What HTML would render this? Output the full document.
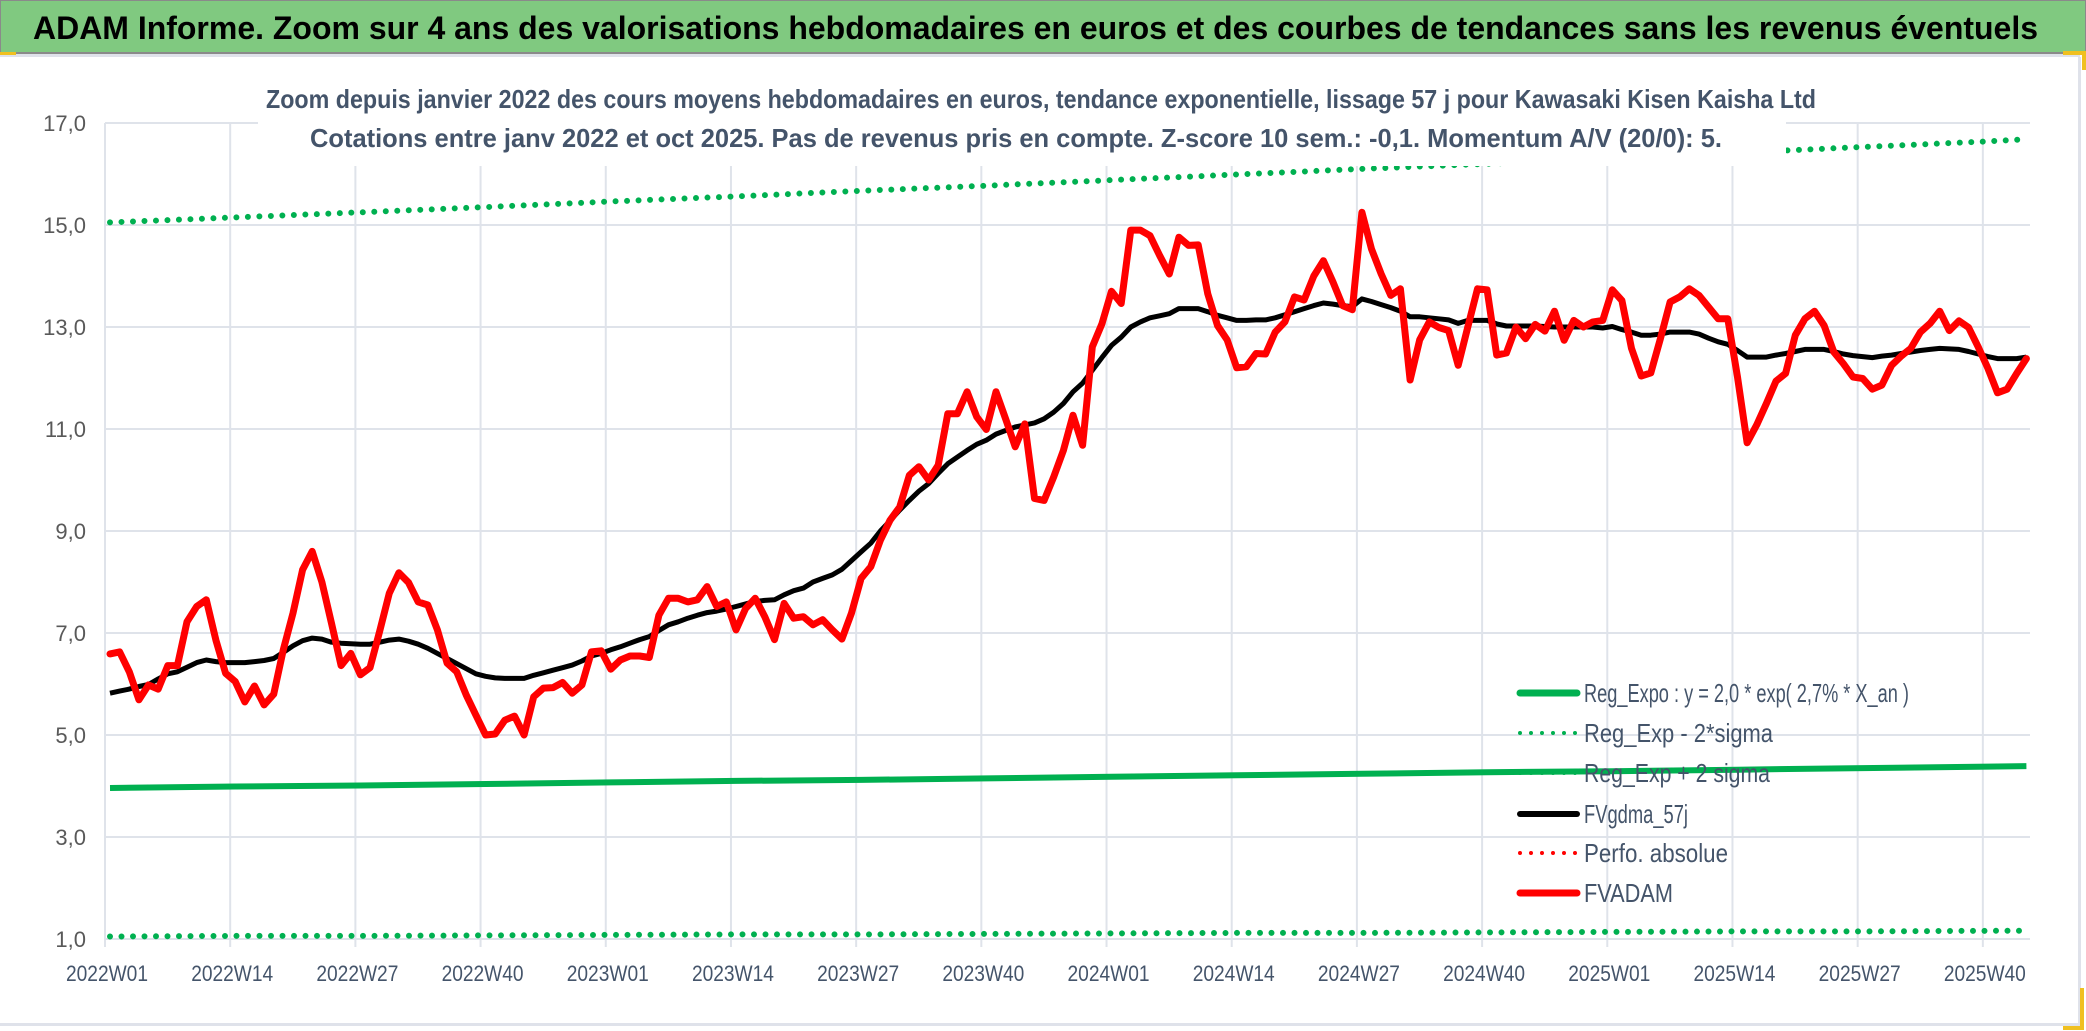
<!DOCTYPE html>
<html><head><meta charset="utf-8"><style>
html,body{margin:0;padding:0;background:#fff;}
svg{display:block;}
text{font-family:"Liberation Sans Narrow","Liberation Sans",sans-serif;}
</style></head><body>
<svg id="chart" width="2086" height="1031" viewBox="0 0 2086 1031" xmlns="http://www.w3.org/2000/svg">
<rect x="0" y="0" width="2086" height="1031" fill="#fff"/>
<rect x="0" y="0" width="2086" height="53" fill="#80c980" stroke="#8a8a8a" stroke-width="2"/>
<text x="33" y="39" font-size="32" font-weight="bold" fill="#000" textLength="2005" lengthAdjust="spacingAndGlyphs">ADAM Informe. Zoom sur 4 ans des valorisations hebdomadaires en euros et des courbes de tendances sans les revenus éventuels</text>
<rect x="0" y="54" width="2080" height="3" fill="#dfe2ea"/>
<rect x="0" y="52" width="16" height="3" fill="#f0c020"/>
<rect x="2078" y="57" width="3" height="968" fill="#dfe2ea"/>
<rect x="0" y="1023" width="2080" height="3" fill="#dfe2ea"/>
<path d="M2063 53 H2084 V70" fill="none" stroke="#f0c020" stroke-width="4"/>
<path d="M2063 1028 H2082 V988" fill="none" stroke="#f0c020" stroke-width="4"/>
<g id="grid"></g>
<g id="series"></g>
<rect x="258" y="62" width="1528" height="104" fill="#fff"/>
<text x="266" y="108" font-size="26" font-weight="bold" fill="#44546a" textLength="1550" lengthAdjust="spacingAndGlyphs">Zoom depuis janvier 2022 des cours moyens hebdomadaires en euros, tendance exponentielle, lissage 57 j pour Kawasaki Kisen Kaisha Ltd</text>
<text x="310" y="147" font-size="26" font-weight="bold" fill="#44546a" textLength="1412" lengthAdjust="spacingAndGlyphs">Cotations entre janv 2022 et oct 2025. Pas de revenus pris en compte. Z-score 10 sem.: -0,1. Momentum A/V (20/0): 5.</text>
<g id="axes"></g>
<g id="legend"></g>
</svg>
<script>
const xLabels=["2022W01","2022W14","2022W27","2022W40","2023W01","2023W14","2023W27","2023W40","2024W01","2024W14","2024W27","2024W40","2025W01","2025W14","2025W27","2025W40"];
const yTicks=[1,3,5,7,9,11,13,15,17];
const yTickLabels=["1,0","3,0","5,0","7,0","9,0","11,0","13,0","15,0","17,0"];
const fvadam=[6.59,6.63,6.24,5.69,5.98,5.9,6.36,6.36,7.22,7.52,7.65,6.86,6.21,6.05,5.65,5.96,5.59,5.8,6.67,7.39,8.24,8.6,8.0,7.19,6.36,6.6,6.18,6.32,7.03,7.78,8.18,7.99,7.61,7.55,7.06,6.41,6.24,5.78,5.39,5.0,5.02,5.29,5.37,5.0,5.75,5.92,5.93,6.03,5.82,5.98,6.63,6.65,6.29,6.47,6.55,6.55,6.52,7.35,7.68,7.68,7.61,7.65,7.91,7.52,7.61,7.06,7.48,7.68,7.32,6.87,7.58,7.29,7.32,7.16,7.26,7.06,6.88,7.39,8.07,8.3,8.82,9.21,9.47,10.09,10.26,10.0,10.29,11.3,11.3,11.73,11.24,10.99,11.73,11.2,10.65,11.1,9.64,9.6,10.06,10.58,11.27,10.68,12.61,13.06,13.7,13.46,14.9,14.9,14.79,14.4,14.04,14.76,14.6,14.61,13.65,13.03,12.75,12.2,12.22,12.48,12.47,12.9,13.1,13.59,13.53,14.0,14.3,13.88,13.42,13.34,15.25,14.53,14.04,13.62,13.75,11.96,12.75,13.1,12.99,12.93,12.25,13.0,13.75,13.73,12.45,12.49,13.0,12.77,13.05,12.92,13.31,12.74,13.13,13.0,13.1,13.13,13.73,13.52,12.58,12.04,12.1,12.77,13.49,13.59,13.75,13.62,13.39,13.16,13.16,12.02,10.73,11.08,11.5,11.94,12.09,12.84,13.16,13.31,13.03,12.51,12.28,12.02,11.99,11.78,11.86,12.25,12.43,12.58,12.9,13.07,13.31,12.93,13.12,12.99,12.61,12.19,11.71,11.78,12.09,12.38];
const fvgdma=[5.82,5.86,5.9,5.95,5.99,6.1,6.2,6.24,6.33,6.42,6.47,6.44,6.42,6.42,6.42,6.44,6.46,6.5,6.62,6.75,6.85,6.9,6.88,6.82,6.8,6.79,6.78,6.78,6.82,6.86,6.88,6.84,6.78,6.7,6.6,6.5,6.4,6.3,6.2,6.15,6.12,6.11,6.11,6.11,6.17,6.22,6.27,6.32,6.37,6.45,6.55,6.6,6.67,6.73,6.8,6.87,6.93,7.05,7.16,7.22,7.29,7.35,7.4,7.43,7.47,7.52,7.57,7.62,7.64,7.65,7.75,7.83,7.88,8.0,8.07,8.14,8.25,8.42,8.59,8.76,9.0,9.2,9.41,9.6,9.78,9.93,10.13,10.32,10.45,10.58,10.7,10.78,10.9,10.97,11.04,11.08,11.12,11.2,11.33,11.5,11.73,11.9,12.15,12.4,12.64,12.8,13.0,13.1,13.18,13.22,13.26,13.36,13.36,13.36,13.3,13.23,13.18,13.13,13.13,13.14,13.14,13.18,13.24,13.3,13.36,13.42,13.47,13.45,13.42,13.4,13.55,13.5,13.44,13.38,13.31,13.2,13.2,13.18,13.16,13.14,13.07,13.13,13.13,13.13,13.06,13.02,13.02,13.02,13.02,13.01,13.0,13.0,13.0,13.0,13.0,12.98,13.01,12.95,12.9,12.84,12.84,12.86,12.9,12.9,12.9,12.86,12.78,12.71,12.66,12.54,12.41,12.41,12.41,12.45,12.48,12.52,12.56,12.56,12.56,12.52,12.47,12.44,12.42,12.4,12.43,12.45,12.48,12.51,12.54,12.56,12.58,12.57,12.56,12.52,12.47,12.42,12.38,12.38,12.38,12.41];
const trendWeeks=[0,13,26,39,52,65,78,91,104,117,130,143,156,169,182,195,199];
const regExpo=[3.96,3.99,4.01,4.04,4.07,4.10,4.12,4.15,4.18,4.21,4.24,4.27,4.29,4.32,4.35,4.38,4.39];
const regUpper=[15.05,15.15,15.25,15.35,15.46,15.56,15.67,15.77,15.88,15.99,16.1,16.2,16.31,16.42,16.53,16.64,16.68];
const regLower=[1.05,1.06,1.06,1.07,1.08,1.09,1.09,1.10,1.11,1.12,1.12,1.13,1.14,1.15,1.15,1.16,1.16];

const NS="http://www.w3.org/2000/svg";
const X0=110,DX=9.63,PL=105,PR=2030;
function xs(i){return X0+i*DX;}
function ys(v){return 939-(v-1)*51;}
function mk(tag,attrs,parent){const e=document.createElementNS(NS,tag);for(const k in attrs)e.setAttribute(k,attrs[k]);parent.appendChild(e);return e;}
const grid=document.getElementById('grid'),axes=document.getElementById('axes'),ser=document.getElementById('series'),leg=document.getElementById('legend');
yTicks.forEach((v,k)=>{
  const l=mk('line',{x1:PL,x2:PR,y1:ys(v),y2:ys(v),stroke:'#dfe3ea','stroke-width':2},grid);
  
  
  const t=mk('text',{x:86,y:ys(v)+8,'text-anchor':'end','font-size':22,fill:'#595959'},axes);
  t.textContent=yTickLabels[k];
  
  
});
xLabels.forEach((s,k)=>{
  const gx=xs(13*k)-5;
  const l=mk('line',{x1:gx,x2:gx,y1:ys(17),y2:ys(1)+8,stroke:'#dfe3ea','stroke-width':2},grid);
  
  
  const t=mk('text',{x:gx+2,y:981,'text-anchor':'middle','font-size':22,fill:'#44546a',textLength:82,lengthAdjust:'spacingAndGlyphs'},axes);
  t.textContent=s;
  
  
});
function pathFrom(idx,vals){return vals.map((v,k)=>(k?'L':'M')+xs(idx[k]).toFixed(1)+' '+ys(v).toFixed(1)).join(' ');}
function seq(n){return Array.from({length:n},(_,i)=>i);}
let p;
p=mk('path',{d:pathFrom(trendWeeks,regLower),fill:'none',stroke:'#00b050','stroke-width':6,'stroke-dasharray':'0 11.5','stroke-linecap':'round'},ser);


p=mk('path',{d:pathFrom(trendWeeks,regUpper),fill:'none',stroke:'#00b050','stroke-width':6,'stroke-dasharray':'0 11.5','stroke-linecap':'round'},ser);


p=mk('path',{d:pathFrom(trendWeeks,regExpo),fill:'none',stroke:'#00b050','stroke-width':6},ser);


p=mk('path',{d:pathFrom(seq(fvgdma.length),fvgdma),fill:'none',stroke:'#000','stroke-width':5,'stroke-linejoin':'round'},ser);


p=mk('path',{d:pathFrom(seq(fvadam.length),fvadam),fill:'none',stroke:'#ff0000','stroke-width':7,'stroke-linejoin':'round','stroke-linecap':'round'},ser);


const legendItems=[["Reg_Expo : y = 2,0 * exp( 2,7% *  X_an )","#00b050","solid",693,325],["Reg_Exp - 2*sigma","#00b050","dot",733,189],["Reg_Exp + 2 sigma","#00b050","dot",773,186],["FVgdma_57j","#000","solid",814,104],["Perfo. absolue","#ff0000","dot",853,144],["FVADAM","#ff0000","solid",893,89]];
legendItems.forEach(it=>{
  const g=mk('g',{},leg);
  
  
  const a={x1:1520,x2:1577,y1:it[3],y2:it[3],stroke:it[1],'stroke-linecap':'round'};
  if(it[2]==='dot'){a['stroke-width']=4;a['stroke-dasharray']='0 11';}else{a['stroke-width']=it[1]==='#000'?6:7;}
  const l=mk('line',a,g);
  
  
  const t=mk('text',{x:1584,y:it[3]+9,'font-size':26,fill:'#44546a',textLength:it[4],lengthAdjust:'spacingAndGlyphs'},g);
  t.textContent=it[0];
  
  
});
</script>
</body></html>
